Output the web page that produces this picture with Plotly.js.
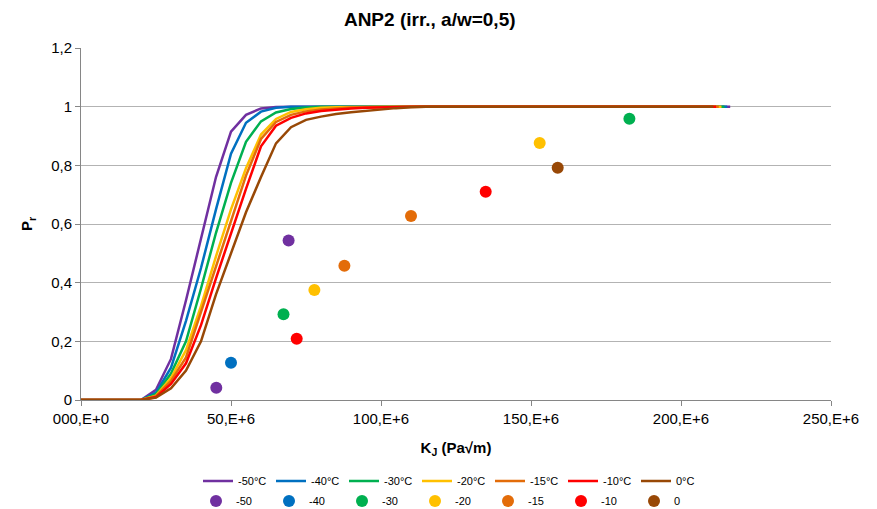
<!DOCTYPE html>
<html>
<head>
<meta charset="utf-8">
<script src="https://cdn.plot.ly/plotly-3.0.1.min.js"></script>
<style>
html,body{margin:0;padding:0;background:#fff;}
#chart{width:877px;height:509px;}
</style>
</head>
<body>
<div id="chart"></div>
<script>
// K grid (E+6 Pa√m) at which the curves are tabulated
const kGrid = [0, 20, 25, 30, 35, 40, 45, 50, 55, 60, 65, 70, 75, 80, 85, 90, 95, 100, 105, 110, 115];

// Probability curves
const pM50 = [0, 0, 0.035, 0.14, 0.34, 0.555, 0.76, 0.915, 0.972, 0.994, 0.999, 1, 1, 1, 1, 1, 1, 1, 1, 1, 1];
const pM40 = [0, 0, 0.025, 0.11, 0.27, 0.45, 0.65, 0.84, 0.945, 0.983, 0.996, 1, 1, 1, 1, 1, 1, 1, 1, 1, 1];
const pM30 = [0, 0, 0.02, 0.09, 0.2, 0.38, 0.57, 0.74, 0.88, 0.95, 0.98, 0.992, 0.997, 1, 1, 1, 1, 1, 1, 1, 1];
const pM20 = [0, 0, 0.015, 0.075, 0.17, 0.32, 0.49, 0.65, 0.79, 0.905, 0.958, 0.982, 0.991, 0.996, 0.998, 0.999, 1, 1, 1, 1, 1];
const pM15 = [0, 0, 0.013, 0.065, 0.145, 0.3, 0.455, 0.615, 0.765, 0.89, 0.948, 0.972, 0.984, 0.99, 0.994, 0.997, 0.998, 0.999, 1, 1, 1];
const pM10 = [0, 0, 0.01, 0.055, 0.125, 0.255, 0.415, 0.57, 0.72, 0.865, 0.935, 0.962, 0.977, 0.985, 0.99, 0.994, 0.996, 0.998, 0.999, 1, 1];
const pP0  = [0, 0, 0.008, 0.04, 0.1, 0.2, 0.36, 0.5, 0.64, 0.76, 0.875, 0.93, 0.955, 0.966, 0.975, 0.981, 0.986, 0.991, 0.995, 0.998, 1];

// last K of each curve (where the flat part at 1 ends)
const kEnd = [216.4, 215.4, 214.5, 213.5, 212.6, 211.7, 210.8];
const pEnd = 1;

const curveNames = ['-50°C', '-40°C', '-30°C', '-20°C', '-15°C', '-10°C', '0°C'];
const curveVals = [pM50, pM40, pM30, pM20, pM15, pM10, pP0];

// Measured points
const ptNames = ['-50', '-40', '-30', '-20', '-15', '-10', '0'];
const ptK = [[45.1, 69.2], [50.0], [67.5, 182.8], [77.8, 152.9], [87.8, 110.0], [71.9, 134.9], [158.9]];
const ptP = [[0.042, 0.544], [0.127], [0.292, 0.959], [0.375, 0.876], [0.458, 0.627], [0.209, 0.710], [0.792]];

const colors = ['#7030A0', '#0070C0', '#00B050', '#FFC000', '#E36C09', '#FF0000', '#984806'];

const xTickVals = [0, 50, 100, 150, 200, 250];
const xTickText = ['000,E+0', '50,E+6', '100,E+6', '150,E+6', '200,E+6', '250,E+6'];
const yTickVals = [0, 0.2, 0.4, 0.6, 0.8, 1, 1.2];
const yTickText = ['0', '0,2', '0,4', '0,6', '0,8', '1', '1,2'];

const FONT = 'Liberation Sans Narrow, Arial Narrow, Liberation Sans, sans-serif';

const traces = [];
curveVals.forEach((vals, i) => {
  traces.push({
    type: 'scatter', mode: 'lines', name: curveNames[i],
    x: kGrid.concat([kEnd[i]]), y: vals.concat([pEnd]),
    line: {color: colors[i], width: 2.5},
    legend: 'legend', hoverinfo: 'skip'
  });
});
ptK.forEach((xs, i) => {
  traces.push({
    type: 'scatter', mode: 'markers', name: ptNames[i],
    x: xs, y: ptP[i],
    marker: {color: colors[i], size: 12},
    legend: 'legend2', hoverinfo: 'skip'
  });
});

const legendCommon = {
  orientation: 'h', xref: 'container', yref: 'container',
  xanchor: 'left', yanchor: 'middle',
  font: {family: FONT, size: 11, color: '#000'},
  entrywidth: 28, entrywidthmode: 'pixels',
  bgcolor: 'rgba(0,0,0,0)', itemclick: false, itemdoubleclick: false,
  tracegroupgap: 0
};

const layout = {
  width: 877, height: 509,
  margin: {l: 81, r: 46, t: 48, b: 109},
  paper_bgcolor: '#fff', plot_bgcolor: '#fff',
  font: {family: FONT, color: '#000'},
  title: {
    text: '<b>ANP2 (irr., a/w=0,5)</b>',
    font: {family: FONT, size: 19, color: '#000'},
    xref: 'container', x: 0.49, xanchor: 'center',
    yref: 'container', y: 0.962, yanchor: 'middle'
  },
  xaxis: {
    range: [0, 250], tickvals: xTickVals, ticktext: xTickText,
    showgrid: false, zeroline: false,
    showline: true, linecolor: '#868686', linewidth: 1,
    ticks: 'outside', ticklen: 5, tickcolor: '#868686',
    tickfont: {family: FONT, size: 15, color: '#000'},
    title: {text: '<b>K<sub>J</sub> (Pa√m)</b>', font: {family: FONT, size: 15, color: '#000'}, standoff: 16}
  },
  yaxis: {
    range: [0, 1.2], tickvals: yTickVals, ticktext: yTickText,
    showgrid: true, gridcolor: '#B3B3B3', gridwidth: 1,
    zeroline: false,
    showline: true, linecolor: '#868686', linewidth: 1,
    ticks: 'outside', ticklen: 5, tickcolor: '#868686',
    tickfont: {family: FONT, size: 15, color: '#000'},
    title: {text: '<b>P<sub>r</sub></b>', font: {family: FONT, size: 15, color: '#000'}, standoff: 14}
  },
  showlegend: true,
  legend: Object.assign({}, legendCommon, {x: 198 / 877, y: 1 - 481 / 509}),
  legend2: Object.assign({}, legendCommon, {x: 196 / 877, y: 1 - 501 / 509})
};

Plotly.newPlot('chart', traces, layout, {staticPlot: true, displayModeBar: false});
</script>
</body>
</html>
